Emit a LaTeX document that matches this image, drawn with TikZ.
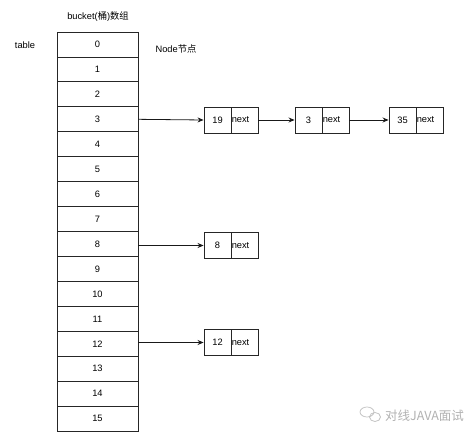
\documentclass[tikz,border=0pt]{standalone}
\usepackage{fontspec}
\setmainfont{Liberation Sans}
\newfontfamily\cjk{Noto Sans CJK SC}
\usetikzlibrary{arrows.meta}
\begin{document}
\begin{tikzpicture}[x=1pt,y=-1pt,
  cell/.style={draw=black!85,line width=0.9pt,minimum width=81pt,minimum height=24.94pt,inner sep=0pt,font=\fontsize{9.3}{11}\selectfont},
  val/.style={draw=black!85,line width=0.9pt,minimum width=27pt,minimum height=26pt,inner sep=0pt,font=\fontsize{9.3}{11}\selectfont},
  nxt/.style={val,text width=25.5pt,align=left},
  lbl/.style={inner sep=0pt,font=\fontsize{9.3}{11}\selectfont},
  conn/.style={line width=0.8pt,draw=black!90,-{Stealth[length=6pt,width=5pt]}}]
\useasboundingbox (0,0) rectangle (474,438);
\fill[white] (0,0) rectangle (474,438);
\foreach \i in {0,...,15} {
  \node[cell] (r\i) at (97.5,{44.5+\i*24.94}) {\i};
}
\node[lbl] (title) at (98,17) {bucket({\cjk 桶}){\cjk 数组}};
\node[lbl] (tbl) at (25,45) {table};
\node[lbl] (nodelbl) at (176,49) {Node{\cjk 节点}};
% list nodes
\node[val] (a1) at (217.5,120) {19};
\node[nxt] (a2) at (244.5,120) {next};
\node[val] (b1) at (308.5,120) {3};
\node[nxt] (b2) at (335.5,120) {next};
\node[val] (c1) at (402.5,120) {35};
\node[nxt] (c2) at (429.5,120) {next};
\node[val] (d1) at (217.5,245.5) {8};
\node[nxt] (d2) at (244.5,245.5) {next};
\node[val] (e1) at (217.5,342.5) {12};
\node[nxt] (e2) at (244.5,342.5) {next};
\draw[conn] (r3.east) -- (a1.west);
\draw[conn] (a2.east) -- (b1.west);
\draw[conn] (b2.east) -- (c1.west);
\draw[conn] (r8.east |- d1.west) -- (d1.west);
\draw[conn] (r12.east |- e1.west) -- (e1.west);
% watermark
\begin{scope}[draw=black!25,line width=0.7pt]
\draw (367,412) ellipse (7pt and 5pt);
\draw (375,417) ellipse (5.5pt and 4.5pt);
\end{scope}
\node[lbl,text=black!30,font=\fontsize{12.5}{14}\selectfont\cjk] (wm) at (424.5,416) {对线JAVA面试};
\end{tikzpicture}
\end{document}
